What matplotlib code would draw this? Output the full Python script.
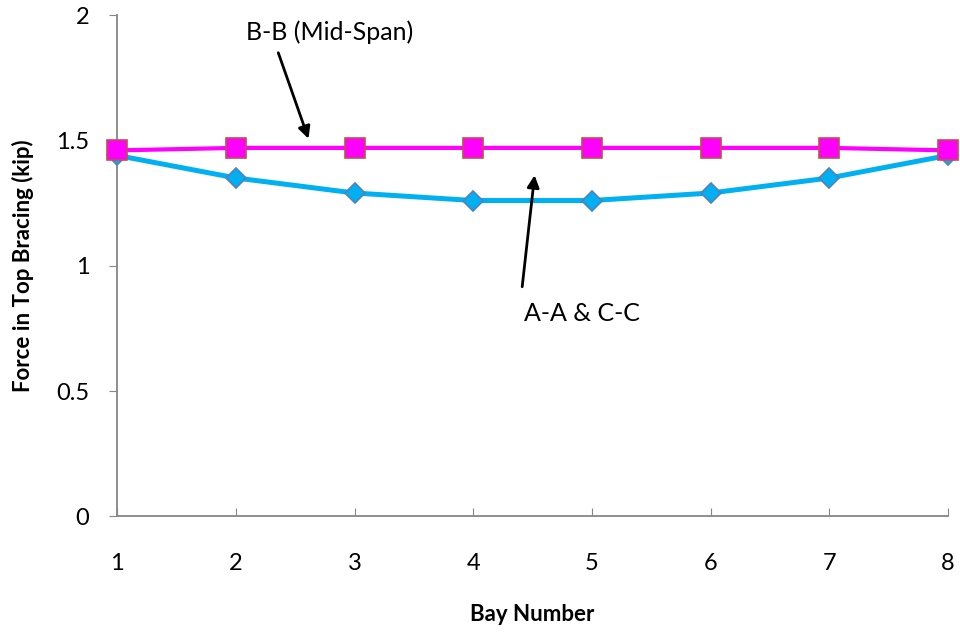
import matplotlib
matplotlib.use("Agg")
import matplotlib.pyplot as plt

plt.rcParams['font.family'] = ['Lato', 'DejaVu Sans']

bays = [1, 2, 3, 4, 5, 6, 7, 8]
mid_span = [1.46, 1.47, 1.47, 1.47, 1.47, 1.47, 1.47, 1.46]
edge_aa_cc = [1.44, 1.35, 1.29, 1.26, 1.26, 1.29, 1.35, 1.44]

fig = plt.figure(figsize=(9.6, 6.34), dpi=100)
ax = fig.add_axes([0.122, 0.1855, 0.8655, 0.7908])

ax.plot(bays, edge_aa_cc, color='#00B0F0', lw=3.6, marker='D', ms=10,
        mfc='#00B0F0', mec='#4F81BD', mew=1.2, zorder=3, clip_on=False)
ax.plot(bays, mid_span, color='#FF00FF', lw=3.0, marker='s', ms=14,
        mfc='#FF00FF', mec='#C0504D', mew=1.2, zorder=4, clip_on=False)

ax.set_xlim(1, 8)
ax.set_ylim(0, 2)
ax.set_yticks([0, 0.5, 1, 1.5, 2])
ax.set_yticklabels(['0', '0.5', '1', '1.5', '2'])
ax.set_xticks(bays)

for s in ['top', 'right']:
    ax.spines[s].set_visible(False)
for s in ['left', 'bottom']:
    ax.spines[s].set_color('#868686')
    ax.spines[s].set_linewidth(1.3)

ax.tick_params(axis='y', direction='out', length=6, color='#868686',
               labelsize=17, pad=14)
ax.tick_params(axis='x', direction='in', length=6, color='#868686',
               labelsize=17, pad=26)

ax.set_xlabel('Bay Number', fontsize=16, fontweight='bold', labelpad=22)
ax.set_ylabel('Force in Top Bracing (kip)', fontsize=16, fontweight='bold',
              labelpad=16)

ax.annotate('', xy=(2.62, 1.496), xytext=(2.35, 1.86),
            arrowprops=dict(arrowstyle='-|>', color='black', lw=2,
                            mutation_scale=18))
ax.text(2.09, 1.932, 'B-B (Mid-Span)', fontsize=18, ha='left', va='center')

ax.annotate('', xy=(4.52, 1.372), xytext=(4.41, 0.905),
            arrowprops=dict(arrowstyle='-|>', color='black', lw=2,
                            mutation_scale=18))
ax.text(4.43, 0.809, 'A-A & C-C', fontsize=18, ha='left', va='center')

fig.savefig('out.png', dpi=100)
